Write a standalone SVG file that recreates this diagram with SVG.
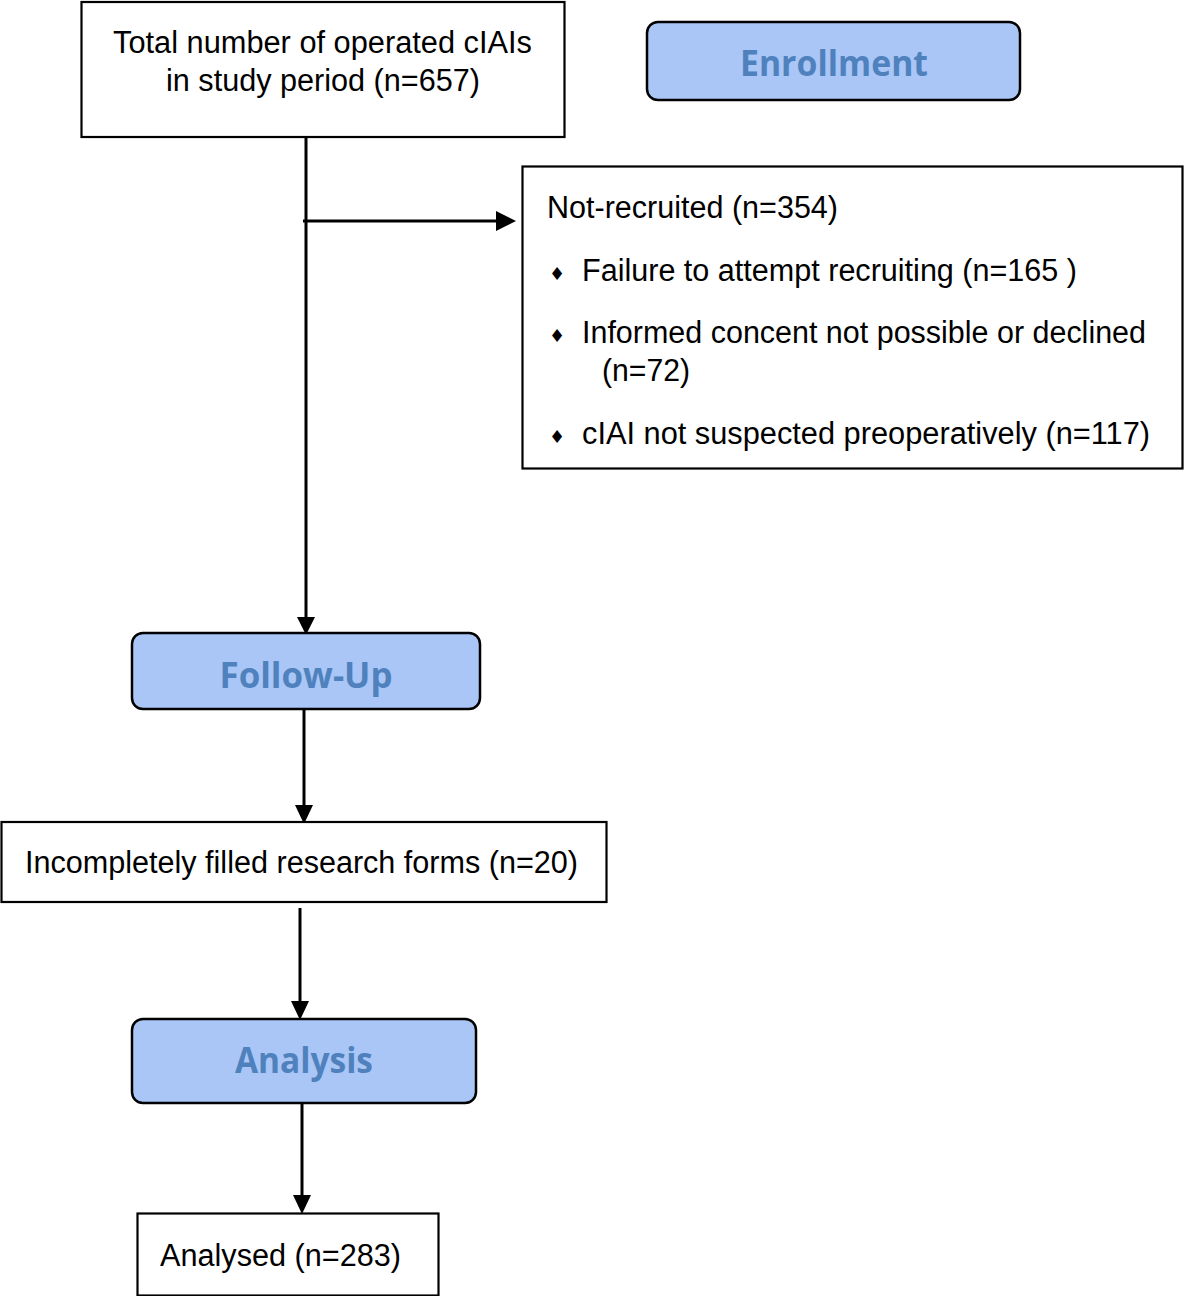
<svg xmlns="http://www.w3.org/2000/svg" width="1184" height="1296" viewBox="0 0 1184 1296">
<defs>
<style>
.box{fill:#fff;stroke:#000;stroke-width:2.2}
.phase{fill:#a9c6f6;stroke:#000;stroke-width:2.5}
.t{font-family:"Liberation Sans",Arial,sans-serif;font-size:31px;fill:#000}
.p{font-family:"Open Sans","Liberation Sans",sans-serif;font-weight:bold;font-size:35px;fill:#4f81bd;text-anchor:middle}
.b{font-family:"DejaVu Sans",sans-serif;font-size:18px;fill:#000}
.c{stroke:#000;stroke-width:3;fill:none}
.h{fill:#000}
</style>
</defs>
<rect width="1184" height="1296" fill="#fff"/>
<g id="connectors">
<line class="c" x1="306" y1="137" x2="306" y2="618"/>
<path class="h" d="M306,635 l-9,-18 h18 z"/>
<line class="c" x1="303" y1="221" x2="498" y2="221"/>
<path class="h" d="M516,221 l-20,-10 v20 z"/>
<line class="c" x1="304" y1="709" x2="304" y2="806"/>
<path class="h" d="M304,824 l-9,-19 h18 z"/>
<line class="c" x1="300" y1="908" x2="300" y2="1002"/>
<path class="h" d="M300,1020 l-9,-19 h18 z"/>
<line class="c" x1="302" y1="1103" x2="302" y2="1196"/>
<path class="h" d="M302,1214 l-9,-19 h18 z"/>
</g>
<g id="total">
<rect class="box" x="81.5" y="2" width="483" height="135"/>
<text class="t" x="113" y="53" textLength="419" lengthAdjust="spacingAndGlyphs">Total number of operated cIAIs</text>
<text class="t" x="166" y="91" textLength="314" lengthAdjust="spacingAndGlyphs">in study period (n=657)</text>
</g>
<g id="enrollment">
<rect class="phase" x="647" y="22" width="373" height="78" rx="11"/>
<text class="p" x="834" y="76" textLength="188" lengthAdjust="spacingAndGlyphs">Enrollment</text>
</g>
<g id="notrecruited">
<rect class="box" x="522.5" y="166.5" width="660" height="302"/>
<text class="t" x="547" y="218" textLength="291" lengthAdjust="spacingAndGlyphs">Not-recruited (n=354)</text>
<text class="b" x="549" y="280">♦</text>
<text class="t" x="582" y="281" textLength="495" lengthAdjust="spacingAndGlyphs">Failure to attempt recruiting (n=165 )</text>
<text class="b" x="549" y="342">♦</text>
<text class="t" x="582" y="343" textLength="564" lengthAdjust="spacingAndGlyphs">Informed concent not possible or declined</text>
<text class="t" x="602" y="381" textLength="88" lengthAdjust="spacingAndGlyphs">(n=72)</text>
<text class="b" x="549" y="443">♦</text>
<text class="t" x="582" y="444" textLength="568" lengthAdjust="spacingAndGlyphs">cIAI not suspected preoperatively (n=117)</text>
</g>
<g id="followup">
<rect class="phase" x="132" y="633" width="348" height="76" rx="11"/>
<text class="p" x="306" y="688" textLength="173" lengthAdjust="spacingAndGlyphs">Follow-Up</text>
</g>
<g id="incomplete">
<rect class="box" x="1.5" y="822" width="605" height="80"/>
<text class="t" x="25" y="873" textLength="553" lengthAdjust="spacingAndGlyphs">Incompletely filled research forms (n=20)</text>
</g>
<g id="analysis">
<rect class="phase" x="132" y="1019" width="344" height="84" rx="11"/>
<text class="p" x="304" y="1073" textLength="138" lengthAdjust="spacingAndGlyphs">Analysis</text>
</g>
<g id="analysed">
<rect class="box" x="137.5" y="1213.5" width="301" height="82"/>
<text class="t" x="160" y="1266" textLength="241" lengthAdjust="spacingAndGlyphs">Analysed (n=283)</text>
</g>
</svg>
